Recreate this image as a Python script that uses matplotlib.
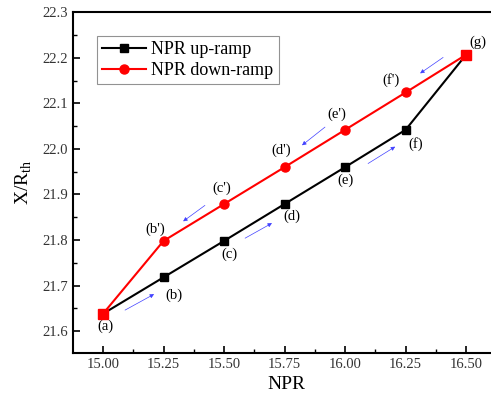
import matplotlib
matplotlib.use("Agg")
import matplotlib.pyplot as plt
from matplotlib.ticker import MultipleLocator, FormatStrFormatter

plt.rcParams['font.family'] = ['Liberation Serif', 'DejaVu Serif']
plt.rcParams['mathtext.fontset'] = 'custom'
plt.rcParams['mathtext.rm'] = 'Liberation Serif'

npr = [15.00, 15.25, 15.50, 15.75, 16.00, 16.25, 16.50]
up_ramp = [21.638, 21.718, 21.798, 21.879, 21.960, 22.042, 22.207]
down_ramp = [21.638, 21.798, 21.879, 21.960, 22.042, 22.124, 22.207]
up_labels = ['(a)', '(b)', '(c)', '(d)', '(e)', '(f)', '(g)']
down_labels = ['', "(b')", "(c')", "(d')", "(e')", "(f')", '']

# label offsets (pixels) relative to point
up_off = [(2, -13), (10, -18), (5, -13), (7, -12), (0, -13), (10, -14), (12, 12)]
down_off = [None, (-8, 12), (-2, 16), (-3, 17), (-8, 16), (-15, 12), None]

# blue direction arrows (start, end) in data coords
arrows = [
    ((15.091, 21.646), (15.211, 21.681)),
    ((15.587, 21.804), (15.698, 21.837)),
    ((16.095, 21.968), (16.207, 22.005)),
    ((16.405, 22.201), (16.310, 22.166)),
    ((15.917, 22.048), (15.822, 22.008)),
    ((15.421, 21.876), (15.331, 21.841)),
]

fig = plt.figure(figsize=(4.91, 4.00), dpi=100)
ax = fig.add_axes([73/491, 47/400, 427/491, 341/400])

ax.plot(npr, up_ramp, color='black', lw=1.5, marker='s', ms=5.5,
        mfc='black', mec='black', label='NPR up-ramp', zorder=3)
ax.plot(npr, down_ramp, color='red', lw=1.5, marker='o', ms=6.5,
        mfc='red', mec='red', label='NPR down-ramp', zorder=4)
ax.plot([npr[0], npr[-1]], [down_ramp[0], down_ramp[-1]], ls='none',
        marker='s', ms=6.5, mfc='red', mec='red', zorder=5)

pt = 0.72
for x, y, lab, off in zip(npr, up_ramp, up_labels, up_off):
    ax.annotate(lab, (x, y), xytext=(off[0]*pt, off[1]*pt),
                textcoords='offset points', ha='center', va='center', fontsize=10.5)
for x, y, lab, off in zip(npr, down_ramp, down_labels, down_off):
    if lab:
        ax.annotate(lab, (x, y), xytext=(off[0]*pt, off[1]*pt),
                    textcoords='offset points', ha='center', va='center', fontsize=10.5)

for (s, e) in arrows:
    ax.annotate('', xy=e, xytext=s,
                arrowprops=dict(arrowstyle='-|>', color='#4040ff', lw=0.5,
                                mutation_scale=6, shrinkA=0, shrinkB=0))

ax.set_xlim(14.876, 16.640)
ax.set_ylim(21.5518, 22.3008)
ax.xaxis.set_major_locator(MultipleLocator(0.25))
ax.xaxis.set_minor_locator(MultipleLocator(0.125))
ax.yaxis.set_major_locator(MultipleLocator(0.1))
ax.yaxis.set_minor_locator(MultipleLocator(0.05))
ax.xaxis.set_major_formatter(FormatStrFormatter('%.2f'))
ax.yaxis.set_major_formatter(FormatStrFormatter('%.1f'))
ax.set_xticks([15.00, 15.25, 15.50, 15.75, 16.00, 16.25, 16.50])
ax.tick_params(which='both', direction='in', labelsize=10.5, colors='black')
ax.tick_params(which='major', length=5, width=1.2)
ax.tick_params(which='minor', length=3, width=1.0)
for lbl in ax.get_xticklabels() + ax.get_yticklabels():
    lbl.set_color('#333333')
for sp in ax.spines.values():
    sp.set_linewidth(1.5)
ax.spines['right'].set_visible(False)

ax.set_xlabel('NPR', fontsize=14, labelpad=4)
ax.set_ylabel(r'X/R$_{\rm th}$', fontsize=14, labelpad=6)

leg = ax.legend(loc='upper left', bbox_to_anchor=(0.056, 0.93), fontsize=13,
                frameon=True, fancybox=False, edgecolor='#777777',
                handlelength=2.4, borderpad=0.3, labelspacing=0.2,
                handletextpad=0.3, borderaxespad=0)
leg.get_frame().set_linewidth(0.8)

fig.savefig('out.png', dpi=100)
